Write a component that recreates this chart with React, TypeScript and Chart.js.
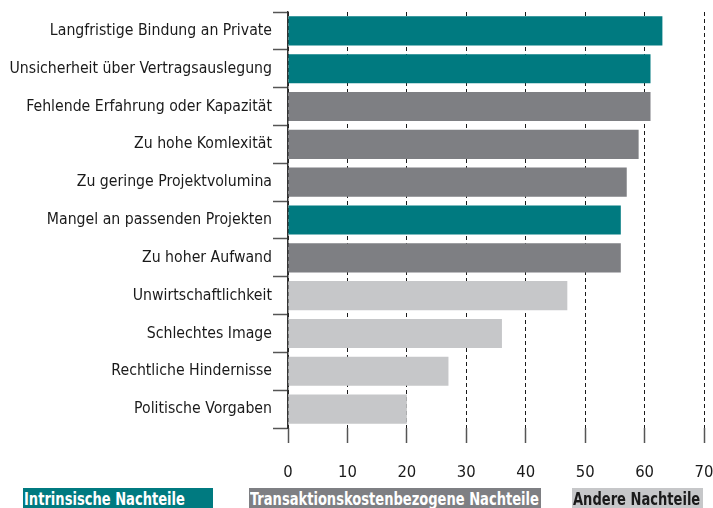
import React, { useEffect, useRef } from "react";
import { Chart, registerables } from "chart.js";

Chart.register(...registerables);

if (typeof document !== "undefined") {
  document.body.style.margin = "0";
}

const categories = [
  "Langfristige Bindung an Private",
  "Unsicherheit über Vertragsauslegung",
  "Fehlende Erfahrung oder Kapazität",
  "Zu hohe Komlexität",
  "Zu geringe Projektvolumina",
  "Mangel an passenden Projekten",
  "Zu hoher Aufwand",
  "Unwirtschaftlichkeit",
  "Schlechtes Image",
  "Rechtliche Hindernisse",
  "Politische Vorgaben",
];
const values = [63, 61, 61, 59, 57, 56, 56, 47, 36, 27, 20];
const groups = ["int", "int", "tra", "tra", "tra", "int", "tra", "and", "and", "and", "and"];

const legendLabels = ["Intrinsische Nachteile", "Transaktionskostenbezogene Nachteile", "Andere Nachteile"];
const legendKeys = ["int", "tra", "and"];
const xTicks = [0, 10, 20, 30, 40, 50, 60, 70];

const COLORS: Record<string, string> = {
  int: "#007A80",
  tra: "#7E7F83",
  and: "#C6C7C9",
};
const TEXT_COLORS: Record<string, string> = { int: "#ffffff", tra: "#ffffff", and: "#1a1a1a" };

const FONT = "'Liberation Sans Narrow', 'DejaVu Sans Condensed', 'Arial Narrow', sans-serif";

const legendBoxes = [
  { left: 23, width: 190 },
  { left: 249, width: 292 },
  { left: 572, width: 131 },
];

const CANVAS_W = 713;

export default function App() {
  const ref = useRef<HTMLCanvasElement | null>(null);
  useEffect(() => {
    document.body.style.margin = "0";
    if (!ref.current) return;
    const chart = new Chart(ref.current, {
      type: "bar",
      data: {
        labels: categories,
        datasets: [
          {
            data: values,
            backgroundColor: groups.map((g) => COLORS[g]),
            barPercentage: 0.77,
            categoryPercentage: 1,
          },
        ],
      },
      options: {
        indexAxis: "y",
        responsive: false,
        animation: false,
        layout: { padding: { left: 0, right: CANVAS_W - 704, top: 12, bottom: 0 } },
        plugins: { legend: { display: false }, tooltip: { enabled: false } },
        scales: {
          x: {
            min: 0,
            max: 70,
            afterFit: (s: any) => {
              s.height = 80;
              s.paddingRight = 0;
              s.paddingLeft = 0;
            },
            afterBuildTicks: (s: any) => {
              s.ticks = xTicks.map((v) => ({ value: v }));
            },
            ticks: {
              color: "#1a1a1a",
              font: { family: FONT, size: 16.5 },
              padding: 20,
              maxRotation: 0,
            },
            grid: {
              color: "#1a1a1a",
              lineWidth: 1,
              tickLength: 15,
              tickColor: "#555",
              tickWidth: 1.5,
              tickBorderDash: [],
            } as any,
            border: { display: false, dash: [4, 3] },
          },
          y: {
            afterFit: (s: any) => {
              s.width = 288;
              s.paddingTop = 0;
              s.paddingBottom = 0;
            },
            ticks: {
              color: "#1a1a1a",
              font: { family: FONT, size: 15.7 },
              padding: 1,
            },
            grid: {
              drawOnChartArea: false,
              tickLength: 15,
              tickColor: "#555",
              tickWidth: 1.5,
              offset: true,
            },
            border: { display: true, color: "#333", width: 1.5 },
          },
        },
      },
    });
    return () => chart.destroy();
  }, []);

  return (
    <div style={{ position: "relative", width: 713, height: 508, overflow: "hidden", background: "#fff" }}>
      <canvas ref={ref} width={CANVAS_W} height={508} style={{ display: "block", width: CANVAS_W, height: 508 }} />
      {legendLabels.map((lab, i) => (
        <div
          key={lab}
          style={{
            position: "absolute",
            left: legendBoxes[i].left,
            top: 488,
            width: legendBoxes[i].width,
            height: 22,
            background: COLORS[legendKeys[i]],
            color: TEXT_COLORS[legendKeys[i]],
            fontFamily: FONT,
            fontWeight: "bold",
            fontSize: 17.5,
            lineHeight: "22px",
            paddingLeft: 1,
            boxSizing: "border-box",
            whiteSpace: "nowrap",
            overflow: "hidden",
          }}
        >
          <span style={{ display: "inline-block", transform: "scaleX(0.83)", transformOrigin: "left center" }}>{lab}</span>
        </div>
      ))}
    </div>
  );
}
